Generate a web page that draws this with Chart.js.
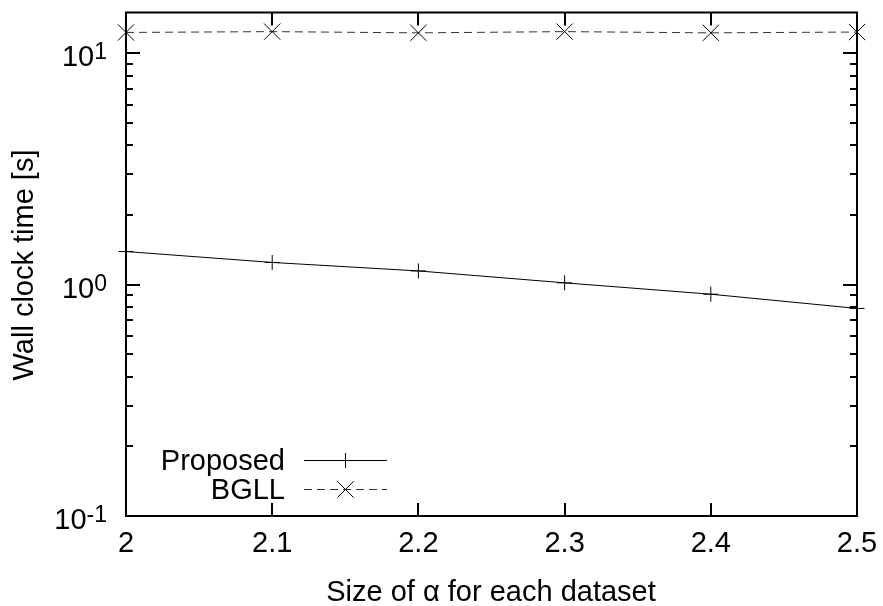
<!DOCTYPE html>
<html>
<head>
<meta charset="utf-8">
<script src="https://cdn.jsdelivr.net/npm/chart.js@4/dist/chart.umd.min.js"></script>
<style>
  html, body { margin: 0; padding: 0; background: #fff; }
</style>
</head>
<body>
<canvas id="chart" width="883" height="606"></canvas>
<script>
// values
const alphaSizes = [2, 2.1, 2.2, 2.3, 2.4, 2.5];
const proposedTimes = [1.39, 1.247, 1.146, 1.018, 0.909, 0.789];
const bgllTimes = [12.3, 12.4, 12.25, 12.4, 12.25, 12.35];

const xTicks = [2, 2.1, 2.2, 2.3, 2.4, 2.5];
const xTickLabels = ['2', '2.1', '2.2', '2.3', '2.4', '2.5'];
const yMajorTicks = [0.1, 1, 10];
const yTickExponents = ['-1', '0', '1'];
const yMinorMult = [2, 3, 4, 5, 6, 7, 8, 9];

const FONT = '"Liberation Sans", Arial, Helvetica, sans-serif';

function toPoints(xs, ys) {
  return xs.map(function (x, i) { return { x: x, y: ys[i] }; });
}

// gnuplot-like frame, inward ticks, y labels with exponents, titles and key
const gnuplotLook = {
  id: 'gnuplotLook',
  afterDraw: function (chart) {
    const ctx = chart.ctx;
    const area = chart.chartArea;
    const xs = chart.scales.x;
    const ys = chart.scales.y;
    ctx.save();
    ctx.strokeStyle = '#000';
    ctx.lineWidth = 2;

    // x ticks (bottom and top)
    ctx.beginPath();
    xTicks.forEach(function (v) {
      const px = Math.round(xs.getPixelForValue(v));
      ctx.moveTo(px, area.bottom); ctx.lineTo(px, area.bottom - 13);
      ctx.moveTo(px, area.top); ctx.lineTo(px, area.top + 13);
    });
    // y ticks (left and right)
    yMajorTicks.forEach(function (v) {
      const py = Math.round(ys.getPixelForValue(v));
      ctx.moveTo(area.left, py); ctx.lineTo(area.left + 14, py);
      ctx.moveTo(area.right, py); ctx.lineTo(area.right - 14, py);
      yMinorMult.forEach(function (m) {
        const val = v * m;
        if (val > ys.max) return;
        const pm = Math.round(ys.getPixelForValue(val));
        ctx.moveTo(area.left, pm); ctx.lineTo(area.left + 7, pm);
        ctx.moveTo(area.right, pm); ctx.lineTo(area.right - 7, pm);
      });
    });
    ctx.stroke();

    // frame
    ctx.strokeRect(area.left, area.top, area.right - area.left, area.bottom - area.top);

    // y tick labels: 10^n
    ctx.fillStyle = '#000';
    ctx.textBaseline = 'alphabetic';
    yMajorTicks.forEach(function (v, i) {
      const py = ys.getPixelForValue(v);
      ctx.font = '23px ' + FONT;
      const supW = ctx.measureText(yTickExponents[i]).width;
      ctx.textAlign = 'right';
      ctx.fillText(yTickExponents[i], 107, py + 6);
      ctx.font = '29px ' + FONT;
      ctx.fillText('10', 107 - supW, py + 13);
    });

    // axis titles
    ctx.font = '29px ' + FONT;
    ctx.textAlign = 'center';
    ctx.fillText('Size of \u03b1 for each dataset', 491, 601);
    ctx.save();
    ctx.translate(33, 265);
    ctx.rotate(-Math.PI / 2);
    ctx.fillText('Wall clock time [s]', 0, 0);
    ctx.restore();

    // key
    const rows = [
      { label: 'Proposed', ds: chart.data.datasets[0], y: 460 },
      { label: 'BGLL', ds: chart.data.datasets[1], y: 489 }
    ];
    rows.forEach(function (r) {
      ctx.font = '29px ' + FONT;
      ctx.textAlign = 'right';
      ctx.fillStyle = '#000';
      ctx.fillText(r.label, 285, r.y + 10);
      ctx.beginPath();
      ctx.lineWidth = 1;
      ctx.strokeStyle = r.ds.borderColor;
      ctx.setLineDash(r.ds.borderDash || []);
      ctx.moveTo(304, r.y + 0.5);
      ctx.lineTo(387, r.y + 0.5);
      ctx.stroke();
      ctx.setLineDash([]);
      ctx.strokeStyle = '#000';
      Chart.helpers.drawPoint(ctx, {
        pointStyle: r.ds.pointStyle,
        radius: r.ds.pointRadius,
        borderWidth: 1,
        rotation: 0
      }, 345.5, r.y + 0.5);
    });
    ctx.restore();
  }
};

const chartConfig = {
  type: 'line',
  data: {
    datasets: [{
      label: 'Proposed',
      data: toPoints(alphaSizes, proposedTimes),
      borderColor: '#000',
      borderWidth: 1,
      pointStyle: 'cross',
      pointRadius: 7.5,
      pointBorderColor: '#000',
      pointBorderWidth: 1,
      fill: false,
      clip: false
    }, {
      label: 'BGLL',
      data: toPoints(alphaSizes, bgllTimes),
      borderColor: '#333',
      borderWidth: 1,
      borderDash: [8, 5],
      pointStyle: 'crossRot',
      pointRadius: 11.5,
      pointBorderColor: '#000',
      pointBorderWidth: 1,
      fill: false,
      clip: false
    }]
  },
  options: {
    responsive: false,
    animation: false,
    devicePixelRatio: 1,
    layout: { padding: { left: 0, right: 26, top: 10, bottom: 0 } },
    plugins: {
      legend: { display: false },
      tooltip: { enabled: false }
    },
    scales: {
      x: {
        type: 'linear',
        min: 2,
        max: 2.5,
        grid: { display: false, drawTicks: false },
        border: { display: false },
        afterBuildTicks: function (scale) {
          scale.ticks = xTicks.map(function (v) { return { value: v }; });
        },
        afterFit: function (scale) {
          scale.height = 90;
          scale.paddingLeft = 0;
          scale.paddingRight = 0;
        },
        ticks: {
          autoSkip: false,
          maxRotation: 0,
          padding: 11,
          color: '#000',
          font: { family: FONT, size: 29 },
          callback: function (value, index) { return xTickLabels[index]; }
        }
      },
      y: {
        type: 'logarithmic',
        min: 0.1,
        max: 15,
        grid: { display: false, drawTicks: false },
        border: { display: false },
        ticks: { display: false },
        afterFit: function (scale) { scale.width = 126; }
      }
    }
  },
  plugins: [gnuplotLook]
};

new Chart(document.getElementById('chart'), chartConfig);
</script>
</body>
</html>
